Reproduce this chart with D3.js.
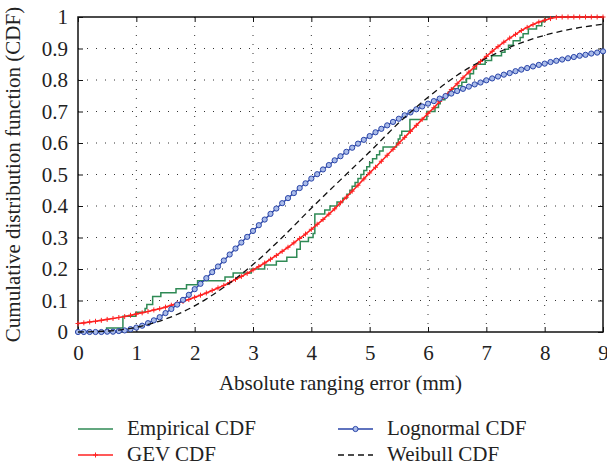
<!DOCTYPE html>
<html>
<head>
<meta charset="utf-8">
<script src="https://cdn.jsdelivr.net/npm/d3@7/dist/d3.min.js"></script>
<style>
  body { margin: 0; background: #fff; }
  text { font-family: "Liberation Serif", "DejaVu Serif", serif; fill: #222; }
</style>
</head>
<body>
<svg width="607" height="466" id="mainsvg"></svg>
<script>
// data
const xTicks = [0, 1, 2, 3, 4, 5, 6, 7, 8, 9]
const yTicks = [0, 0.1, 0.2, 0.3, 0.4, 0.5, 0.6, 0.7, 0.8, 0.9, 1]
const yTickLabels = ['0', '0.1', '0.2', '0.3', '0.4', '0.5', '0.6', '0.7', '0.8', '0.9', '1']

// empirical CDF: jump positions and level after each jump
const empX = [0.49, 0.77, 0.99, 1.15, 1.18, 1.28, 1.42, 1.68, 1.86, 2.05, 2.52, 2.66, 2.97, 3.20, 3.40,
  3.58, 3.75, 3.81, 3.95, 4.03, 4.06, 4.23, 4.32, 4.44, 4.54, 4.61, 4.66, 4.70, 4.75, 4.80,
  4.85, 4.90, 4.95, 5.00, 5.05, 5.12, 5.17, 5.23, 5.46, 5.49, 5.52, 5.55, 5.69, 5.98, 6.12,
  6.18, 6.21, 6.29, 6.35, 6.41, 6.52, 6.58, 6.66, 6.72, 6.78, 6.83, 6.98, 7.09, 7.26, 7.32,
  7.38, 7.46, 7.58, 7.63, 7.72, 7.86, 7.95, 8.00]
const empY = [0.0125, 0.05, 0.0625, 0.075, 0.0875, 0.1125, 0.125, 0.1375, 0.15, 0.1625, 0.175, 0.1875, 0.2, 0.2125, 0.225,
  0.2375, 0.2625, 0.2875, 0.3, 0.3125, 0.375, 0.3875, 0.4, 0.4125, 0.425, 0.4375, 0.45, 0.4625, 0.475, 0.4875,
  0.5, 0.5125, 0.525, 0.5375, 0.55, 0.5625, 0.575, 0.5875, 0.6, 0.6125, 0.625, 0.6375, 0.675, 0.7, 0.7125,
  0.725, 0.7375, 0.75, 0.7625, 0.772, 0.782, 0.793, 0.805, 0.82, 0.835, 0.85, 0.862, 0.877, 0.888, 0.898,
  0.91, 0.925, 0.935, 0.947, 0.962, 0.972, 0.985, 1.0]

// fitted curves, sampled every 0.1 from 0 to 9
const fitX = [0, 0.1, 0.2, 0.3, 0.4, 0.5, 0.6, 0.7, 0.8, 0.9,
  1, 1.1, 1.2, 1.3, 1.4, 1.5, 1.6, 1.7, 1.8, 1.9,
  2, 2.1, 2.2, 2.3, 2.4, 2.5, 2.6, 2.7, 2.8, 2.9,
  3, 3.1, 3.2, 3.3, 3.4, 3.5, 3.6, 3.7, 3.8, 3.9,
  4, 4.1, 4.2, 4.3, 4.4, 4.5, 4.6, 4.7, 4.8, 4.9,
  5, 5.1, 5.2, 5.3, 5.4, 5.5, 5.6, 5.7, 5.8, 5.9,
  6, 6.1, 6.2, 6.3, 6.4, 6.5, 6.6, 6.7, 6.8, 6.9,
  7, 7.1, 7.2, 7.3, 7.4, 7.5, 7.6, 7.7, 7.8, 7.9,
  8, 8.1, 8.2, 8.3, 8.4, 8.5, 8.6, 8.7, 8.8, 8.9, 9]
const gevY = [0.027, 0.029, 0.032, 0.034, 0.037, 0.040, 0.043, 0.046, 0.049, 0.053,
  0.057, 0.061, 0.065, 0.070, 0.074, 0.079, 0.085, 0.091, 0.097, 0.103,
  0.110, 0.117, 0.124, 0.132, 0.140, 0.148, 0.157, 0.167, 0.176, 0.186,
  0.197, 0.208, 0.219, 0.231, 0.243, 0.256, 0.269, 0.283, 0.297, 0.311,
  0.326, 0.342, 0.357, 0.374, 0.391, 0.410, 0.428, 0.447, 0.466, 0.486,
  0.505, 0.523, 0.542, 0.561, 0.580, 0.599, 0.618, 0.637, 0.656, 0.675,
  0.694, 0.712, 0.732, 0.751, 0.770, 0.788, 0.807, 0.825, 0.842, 0.859,
  0.875, 0.891, 0.906, 0.920, 0.933, 0.945, 0.957, 0.967, 0.976, 0.984,
  0.990, 0.995, 0.999, 1, 1, 1, 1, 1, 1, 1, 1]
const lognY = [0, 0, 0, 0, 0, 0.001, 0.001, 0.003, 0.005, 0.009,
  0.014, 0.020, 0.028, 0.037, 0.047, 0.060, 0.073, 0.087, 0.102, 0.118,
  0.136, 0.153, 0.171, 0.190, 0.208, 0.227, 0.246, 0.265, 0.284, 0.302,
  0.321, 0.339, 0.357, 0.375, 0.392, 0.409, 0.425, 0.441, 0.457, 0.472,
  0.487, 0.501, 0.516, 0.530, 0.545, 0.558, 0.572, 0.585, 0.598, 0.610,
  0.622, 0.634, 0.645, 0.656, 0.667, 0.677, 0.688, 0.697, 0.707, 0.716,
  0.725, 0.733, 0.741, 0.749, 0.757, 0.765, 0.772, 0.779, 0.786, 0.792,
  0.799, 0.805, 0.811, 0.817, 0.822, 0.828, 0.833, 0.838, 0.843, 0.848,
  0.852, 0.857, 0.861, 0.865, 0.869, 0.873, 0.877, 0.880, 0.884, 0.887, 0.891]
const weibX = [0, 0.5, 1, 1.5, 2, 2.5, 3, 3.5, 4, 4.5, 5, 5.5, 6, 6.5, 7, 7.5, 8, 8.5, 9]
const weibY = [0, 0.003, 0.015, 0.041, 0.083, 0.142, 0.214, 0.300, 0.393, 0.483,
  0.572, 0.664, 0.745, 0.815, 0.869, 0.911, 0.942, 0.963, 0.977]

const seriesNames = ['Empirical CDF', 'GEV CDF', 'Lognormal CDF', 'Weibull CDF']

const svg = d3.select('svg')
const margin = {top: 17, right: 4, bottom: 134, left: 78}
const width = +svg.attr('width')
const height = +svg.attr('height')
const innerWidth = width - margin.left - margin.right
const innerHeight = height - margin.top - margin.bottom

const g = svg.append('g').attr('transform', `translate(${margin.left}, ${margin.top})`)

const xScale = d3.scaleLinear().domain([0, 9]).range([0, innerWidth])
const yScale = d3.scaleLinear().domain([0, 1]).range([innerHeight, 0])

// dotted grid
g.append('g').selectAll('line')
  .data(xTicks.slice(1, -1))
  .join('line')
  .attr('x1', d => xScale(d)).attr('x2', d => xScale(d))
  .attr('y1', 0).attr('y2', innerHeight)
  .attr('stroke', '#333').attr('stroke-dasharray', '1,8')
g.append('g').selectAll('line')
  .data(yTicks.slice(1, -1))
  .join('line')
  .attr('y1', d => yScale(d)).attr('y2', d => yScale(d))
  .attr('x1', 0).attr('x2', innerWidth)
  .attr('stroke', '#333').attr('stroke-dasharray', '1,8')

// axes, ticks pointing inwards on all sides
const fontSize = '21px'
const xAxis = g.append('g').attr('transform', `translate(0, ${innerHeight})`)
  .call(d3.axisBottom(xScale).tickValues(xTicks).tickFormat(d3.format('d')).tickSize(-5).tickSizeOuter(0).tickPadding(13))
const yAxis = g.append('g')
  .call(d3.axisLeft(yScale).tickValues(yTicks).tickFormat((d, i) => yTickLabels[i]).tickSize(-5).tickSizeOuter(0).tickPadding(10))
g.append('g')
  .call(d3.axisTop(xScale).tickValues(xTicks).tickFormat('').tickSize(-5).tickSizeOuter(0))
g.append('g').attr('transform', `translate(${innerWidth}, 0)`)
  .call(d3.axisRight(yScale).tickValues(yTicks).tickFormat('').tickSize(-5).tickSizeOuter(0))
g.selectAll('.domain').remove()
g.selectAll('.tick line').attr('stroke', '#111')
xAxis.selectAll('text').attr('font-size', fontSize).style('font-family', '"Liberation Serif", serif').attr('fill', '#222')
yAxis.selectAll('text').attr('font-size', fontSize).style('font-family', '"Liberation Serif", serif').attr('fill', '#222')

g.append('rect')
  .attr('width', innerWidth).attr('height', innerHeight)
  .attr('fill', 'none').attr('stroke', '#111').attr('stroke-width', 1.5)

// series
const colors = {emp: '#2f8a55', gev: '#ff2222', logn: '#2a45a8', weib: '#111'}

const empPts = [[0, 0]].concat(empX.map((x, i) => [x, empY[i]]))
g.append('path')
  .datum(empPts)
  .attr('fill', 'none').attr('stroke', colors.emp).attr('stroke-width', 1.5)
  .attr('d', d3.line().x(d => xScale(d[0])).y(d => yScale(d[1])).curve(d3.curveStepAfter))

const gevPts = fitX.map((x, i) => [x, gevY[i]])
g.append('path')
  .datum(gevPts)
  .attr('fill', 'none').attr('stroke', colors.gev).attr('stroke-width', 1.6)
  .attr('d', d3.line().x(d => xScale(d[0])).y(d => yScale(d[1])))
g.append('g').selectAll('path')
  .data(gevPts)
  .join('path')
  .attr('transform', d => `translate(${xScale(d[0])}, ${yScale(d[1])})`)
  .attr('d', 'M-2.5,0H2.5M0,-2.5V2.5')
  .attr('stroke', colors.gev).attr('stroke-width', 1)

const lognPts = fitX.map((x, i) => [x, lognY[i]])
g.append('path')
  .datum(lognPts)
  .attr('fill', 'none').attr('stroke', colors.logn).attr('stroke-width', 1.4)
  .attr('d', d3.line().x(d => xScale(d[0])).y(d => yScale(d[1])))
g.append('g').selectAll('circle')
  .data(lognPts)
  .join('circle')
  .attr('cx', d => xScale(d[0])).attr('cy', d => yScale(d[1]))
  .attr('r', 2.6)
  .attr('fill', '#a9bbe9').attr('stroke', colors.logn).attr('stroke-width', 1)

const weibPts = weibX.map((x, i) => [x, weibY[i]])
g.append('path')
  .datum(weibPts)
  .attr('fill', 'none').attr('stroke', colors.weib).attr('stroke-width', 1.3)
  .attr('stroke-dasharray', '6,4')
  .attr('d', d3.line().x(d => xScale(d[0])).y(d => yScale(d[1])).curve(d3.curveMonotoneX))

// axis titles
svg.append('text')
  .attr('x', margin.left + innerWidth / 2).attr('y', 390)
  .attr('text-anchor', 'middle').attr('font-size', fontSize)
  .text('Absolute ranging error (mm)')
svg.append('text')
  .attr('transform', `translate(20, ${margin.top + innerHeight / 2}) rotate(-90)`)
  .attr('text-anchor', 'middle').attr('font-size', fontSize)
  .text('Cumulative distribution function (CDF)')

// legend
const legendItems = [
  {name: seriesNames[0], color: colors.emp, x: 78, y: 429},
  {name: seriesNames[1], color: colors.gev, x: 78, y: 455, mark: 'plus'},
  {name: seriesNames[2], color: colors.logn, x: 338, y: 429, mark: 'circle'},
  {name: seriesNames[3], color: colors.weib, x: 338, y: 455, dash: '6,4'}
]
const legend = svg.append('g')
legendItems.forEach(it => {
  const item = legend.append('g').attr('transform', `translate(${it.x}, ${it.y})`)
  item.append('line').attr('x1', 0).attr('x2', 35)
    .attr('stroke', it.color).attr('stroke-width', 1.5)
    .attr('stroke-dasharray', it.dash || null)
  if (it.mark === 'plus') {
    item.append('path').attr('d', 'M15,0H20M17.5,-2.5V2.5').attr('stroke', it.color)
  }
  if (it.mark === 'circle') {
    item.append('circle').attr('cx', 17.5).attr('r', 2.6)
      .attr('fill', '#a9bbe9').attr('stroke', it.color)
  }
  item.append('text').attr('x', 49).attr('y', 6).attr('font-size', fontSize).text(it.name)
})
</script>
</body>
</html>
